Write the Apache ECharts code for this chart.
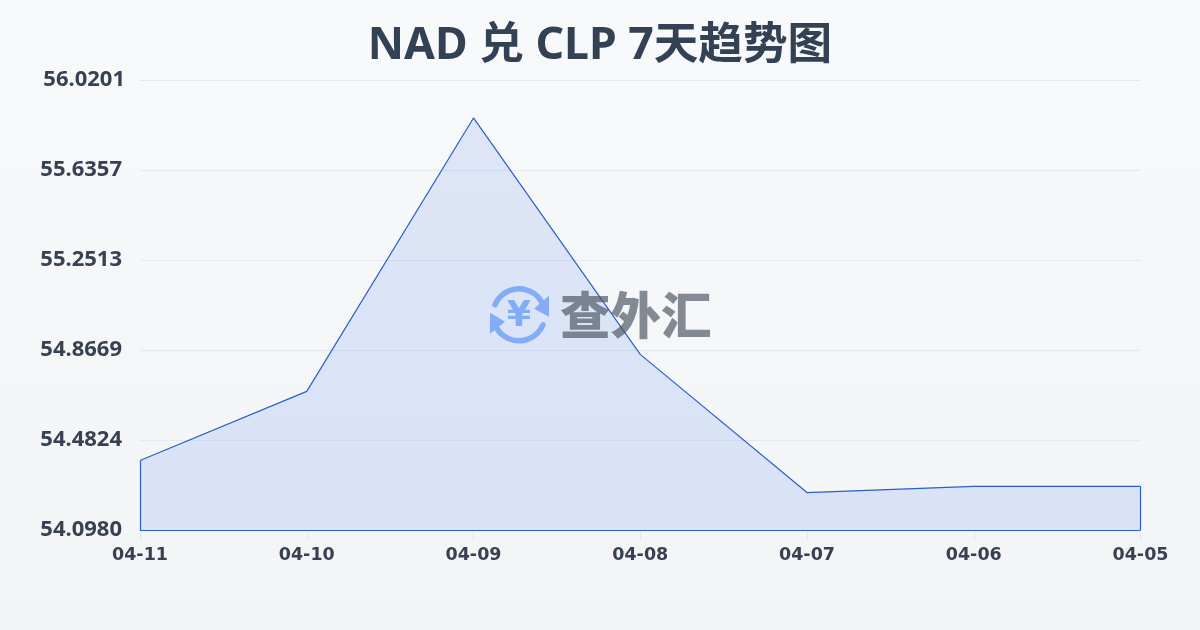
<!DOCTYPE html>
<html><head><meta charset="utf-8">
<style>html,body{margin:0;padding:0;width:1200px;height:630px;overflow:hidden}#c{width:1200px;height:630px}</style>
<script src="https://cdn.jsdelivr.net/npm/echarts@6/dist/echarts.min.js"></script>
</head><body><div id="c"></div>
<script>
const categories = ['04-11','04-10','04-09','04-08','04-07','04-06','04-05'];
const values = [54.395,54.690,55.858,54.848,54.258,54.284,54.284];
const yTickLabels = ['54.0980','54.4824','54.8669','55.2513','55.6357','56.0201'];
const axisMin = 54.0980, axisMax = 56.0201;
const tickStep = (axisMax-axisMin)/5;
const titleText = 'NAD 兑 CLP 7天趋势图';
const lineColor = '#2b5fc7';
const font = '"Noto Sans","Noto Sans CJK SC",sans-serif';
const chart = echarts.init(document.getElementById('c'));
const last = categories.length-1;
const labelBase = {color:'#374151',fontFamily:font,fontSize:22,fontWeight:'bold',lineHeight:24};
chart.setOption({
  animation:false,
  backgroundColor:new echarts.graphic.LinearGradient(0,0,0,1,[{offset:0,color:'#f8f9fb'},{offset:1,color:'#f3f4f6'}]),
  title:{text:titleText,left:'center',top:19,textStyle:{fontFamily:font,fontSize:44.6,fontWeight:'bold',color:'#334155'}},
  grid:{left:140,right:59.5,top:80,bottom:100},
  xAxis:{type:'category',boundaryGap:false,data:categories,
    axisLine:{show:false},
    axisTick:{show:true,length:11,lineStyle:{color:'#e2e8f0'}},
    axisLabel:{color:'#374151',fontFamily:'"DejaVu Sans"',fontSize:17.5,fontWeight:'bold',margin:16,showMaxLabel:true,showMinLabel:true,hideOverlap:false,interval:0},
    splitLine:{show:false}},
  yAxis:{type:'value',min:axisMin,max:axisMax,interval:tickStep,
    axisLine:{show:false},axisTick:{show:false},
    axisLabel:{margin:15,verticalAlign:'middle',...labelBase,padding:[0,0,0,0],
      formatter:(v,i)=> (i===yTickLabels.length-1?'{top|':'{n|')+yTickLabels[i]+'}',
      rich:{top:{...labelBase,padding:[0,0,0,0]},n:{...labelBase,padding:[0,3,0,0]}}},
    splitLine:{show:true,lineStyle:{color:'#e5e9ef',width:1}}},
  series:[{type:'line',data:values,symbol:'none',smooth:false,
    lineStyle:{color:lineColor,width:1.2},
    areaStyle:{color:'rgba(37,99,235,0.18)',origin:'start'},
    markLine:{silent:true,symbol:'none',label:{show:false},animation:false,
      lineStyle:{color:lineColor,width:1.2,type:'solid'},
      data:[
        [{coord:[categories[0],axisMin]},{coord:[categories[0],values[0]]}],
        [{coord:[categories[last],axisMin]},{coord:[categories[last],values[last]]}],
        [{coord:[categories[0],axisMin]},{coord:[categories[last],axisMin]}]
      ]}}],
  graphic:[
    {type:'group',left:490,top:286,width:62,height:62,z:50,silent:true,children:[
      {type:'arc',shape:{cx:30,cy:29,r:26,startAngle:-2.75,endAngle:-0.35},style:{stroke:'#8fb8f8',lineWidth:5.5,fill:null,lineCap:'round'}},
      {type:'arc',shape:{cx:30,cy:29,r:26,startAngle:0.4,endAngle:2.8},style:{stroke:'#8fb8f8',lineWidth:5.5,fill:null,lineCap:'round'}},
      {type:'polygon',shape:{points:[[60,10],[60,31],[45,23]]},style:{fill:'#8fb8f8'}},
      {type:'polygon',shape:{points:[[1,27],[1,48],[16,36]]},style:{fill:'#8fb8f8'}},
      {type:'text',style:{text:'¥',x:30,y:31,align:'center',verticalAlign:'middle',fontFamily:'"DejaVu Sans"',fontSize:35,fontWeight:'bold',fill:'#8fb8f8'}}
    ]},
    {type:'text',left:560,top:290,z:50,silent:true,style:{text:'查外汇',fontFamily:'"Noto Sans CJK SC"',fontSize:50.5,fontWeight:900,fill:'rgba(75,85,99,0.68)'}}
  ]
});
</script></body></html>
